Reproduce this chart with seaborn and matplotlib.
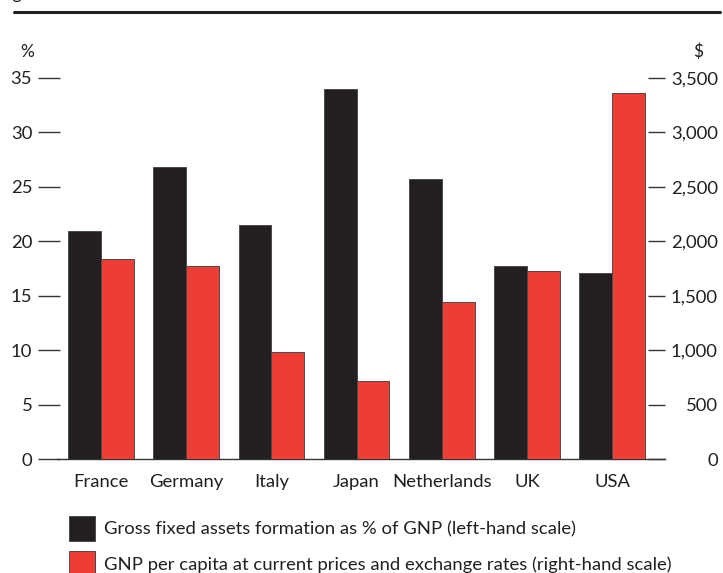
import matplotlib
matplotlib.use("Agg")
import matplotlib.pyplot as plt
from matplotlib.lines import Line2D
from matplotlib.patches import Patch
from matplotlib.ticker import FuncFormatter
import seaborn as sns
import pandas as pd
import numpy as np

countries = ["France", "Germany", "Italy", "Japan", "Netherlands", "UK", "USA"]
gfcf_pct_gnp = [20.9, 26.8, 21.5, 34.0, 25.7, 17.7, 17.1]
gnp_per_capita = [1840, 1770, 980, 720, 1440, 1730, 3360]
series_names = [
    "Gross fixed assets formation as % of GNP (left-hand scale)",
    "GNP per capita at current prices and exchange rates (right-hand scale)",
]
left_ticks = [0, 5, 10, 15, 20, 25, 30, 35]
right_ticks = [0, 500, 1000, 1500, 2000, 2500, 3000, 3500]

BLACK = "#231f20"
RED = "#ee3e33"
FONT = "Lato"
FS = 13.3

sns.set_theme(style="white")
plt.rcParams["font.family"] = [FONT, "DejaVu Sans"]

df_left = pd.DataFrame({
    "country": countries * 2,
    "series": [series_names[0]] * 7 + [series_names[1]] * 7,
    "value": gfcf_pct_gnp + [np.nan] * 7,
})
df_right = pd.DataFrame({
    "country": countries * 2,
    "series": [series_names[0]] * 7 + [series_names[1]] * 7,
    "value": [np.nan] * 7 + gnp_per_capita,
})

fig = plt.figure(figsize=(7.23, 5.73), dpi=100)
ax = fig.add_axes([60 / 723, 1 - 459 / 573, (665 - 60) / 723, (459 - 78) / 573])
ax2 = ax.twinx()

palette = {series_names[0]: BLACK, series_names[1]: RED}
common = dict(x="country", y="value", hue="series", order=countries,
              hue_order=series_names, palette=palette, width=0.77,
              dodge=True, saturation=1, legend=False,
              edgecolor="#4a4a4a", linewidth=0.7)
sns.barplot(data=df_left, ax=ax, **common)
sns.barplot(data=df_right, ax=ax2, **common)

for a in (ax, ax2):
    a.set_xlim(-0.48, 6.62)
    for s in ["top", "left", "right"]:
        a.spines[s].set_visible(False)
    a.set_xlabel("")
    a.set_ylabel("")
ax2.spines["bottom"].set_visible(False)
ax.spines["bottom"].set_color("#333333")
ax.spines["bottom"].set_linewidth(1.0)
ax.spines["bottom"].set_bounds(-0.52, 6.62)

ax.set_ylim(0, 35)
ax2.set_ylim(0, 3500)
ax.set_yticks(left_ticks)
ax2.set_yticks(right_ticks)
ax2.yaxis.set_major_formatter(FuncFormatter(lambda v, p: f"{int(v):,}"))

ax.tick_params(axis="y", which="major", direction="out", length=16, width=1.0,
               color="#333333", pad=4, labelsize=FS, labelcolor="#231f20",
               left=True)
ax2.tick_params(axis="y", which="major", direction="in", length=12.5, width=1.0,
                color="#333333", pad=38, labelsize=FS, labelcolor="#231f20",
                right=True)
ax.tick_params(axis="x", length=0, pad=11, labelsize=FS, labelcolor="#231f20")
for lab in ax2.get_yticklabels():
    lab.set_horizontalalignment("right")

# Unit labels above the two scales
fig.text(20 / 723, 1 - 52 / 573, "%", fontsize=12.5, color="#231f20", va="center")
fig.text(693 / 723, 1 - 52 / 573, "$", fontsize=12.5, color="#231f20", va="center")

# Caption rule and the tail of the caption line above it
fig.add_artist(Line2D([14 / 723, 720 / 723], [1 - 12 / 573, 1 - 12 / 573],
                      color="#231f20", linewidth=2.2))
fig.text(-2 / 723, 1 + 1.5 / 573, "Fig", fontsize=13, color="#231f20",
         va="baseline")

handles = [Patch(facecolor=BLACK, edgecolor="#4a4a4a", linewidth=0.7),
           Patch(facecolor=RED, edgecolor="#4a4a4a", linewidth=0.7)]
fig.legend(handles, series_names, loc="upper left",
           bbox_to_anchor=(62 / 723, 1 - 509 / 573), frameon=False,
           fontsize=FS, handlelength=1.4, handleheight=1.65,
           handletextpad=0.45, labelspacing=0.58, borderaxespad=0,
           labelcolor="#231f20")

fig.savefig("out.png", dpi=100)
